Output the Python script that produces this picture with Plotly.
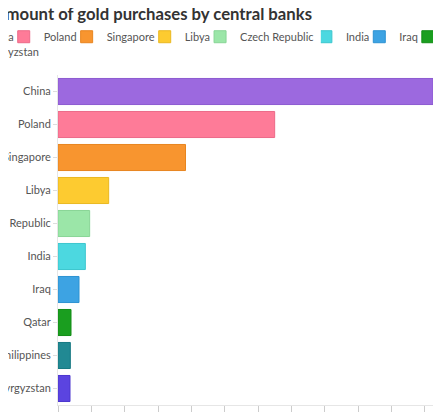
import plotly.graph_objects as go

# gold purchases by central banks (tonnes)
countries = ["China", "Poland", "Singapore", "Libya", "Czech Republic",
             "India", "Iraq", "Qatar", "Philippines", "Kyrgyzstan"]
tonnes = [225, 130, 76.5, 30.4, 19, 16.4, 12.6, 7.8, 7.4, 7.2]
tick_values = [0, 20, 40, 60, 80, 100, 120, 140, 160, 180, 200, 220]

colors = ["#9c69df", "#fe7b98", "#f8952f", "#fdcb30", "#9be6a8",
          "#4cd8e0", "#3da3e3", "#1a9e1f", "#218993", "#5b44e0"]
outlines = ["#8c5ad0", "#ec6a88", "#e8851f", "#eab820", "#88d596",
            "#3cc6ce", "#2d92d2", "#128c16", "#167882", "#4c36cf"]

# which legend each entry goes to (the first row is split in two pieces)
legend_ids = ["legend"] * 5 + ["legend2"] * 4 + ["legend3"]

FONT = "Lato, sans-serif"

fig = go.Figure()
for name, value, color, outline, leg in zip(countries, tonnes, colors, outlines, legend_ids):
    fig.add_trace(go.Bar(
        x=[value], y=[name], name=name, orientation="h",
        marker=dict(color=color, line=dict(color=outline, width=1)),
        legend=leg))

legend_style = dict(orientation="h", xanchor="left", yanchor="middle",
                    bgcolor="rgba(0,0,0,0)", indentation=-15, itemwidth=30,
                    font=dict(family=FONT, size=11, color="#555555"))

# the page body adds 8px around the figure, so the plot is laid out 8px up/left
fig.update_layout(
    width=441, height=417,
    margin=dict(l=50, r=16, t=66.5, b=19.5, autoexpand=False),
    paper_bgcolor="white", plot_bgcolor="white",
    barmode="relative", bargap=0.21,
    font=dict(family=FONT, size=11, color="#555555"),
    title=dict(text="<b>Amount of gold purchases by central banks</b>",
               font=dict(family=FONT, size=16.7, color="#333333"),
               xref="container", x=0.3288, xanchor="center",
               yref="container", y=1, yanchor="top", pad=dict(t=0)),
    legend=dict(x=-0.2587, y=1.116, **legend_style),
    legend2=dict(x=0.701, y=1.116, **legend_style),
    legend3=dict(x=-0.2587, y=1.071, **legend_style),
)

fig.update_xaxes(range=[0, 225], tickvals=tick_values, showgrid=False, zeroline=False,
                 showline=True, linecolor="#e6e6e6", linewidth=1,
                 ticks="outside", ticklen=6, tickcolor="#cccccc",
                 ticklabelstandoff=6, automargin=False)
fig.update_yaxes(autorange="reversed", showgrid=False, zeroline=False,
                 showline=True, linecolor="#e6e6e6", linewidth=1,
                 ticks="outside", ticklen=4, tickcolor="#dddddd", automargin=False)

fig.write_html("out.html")
